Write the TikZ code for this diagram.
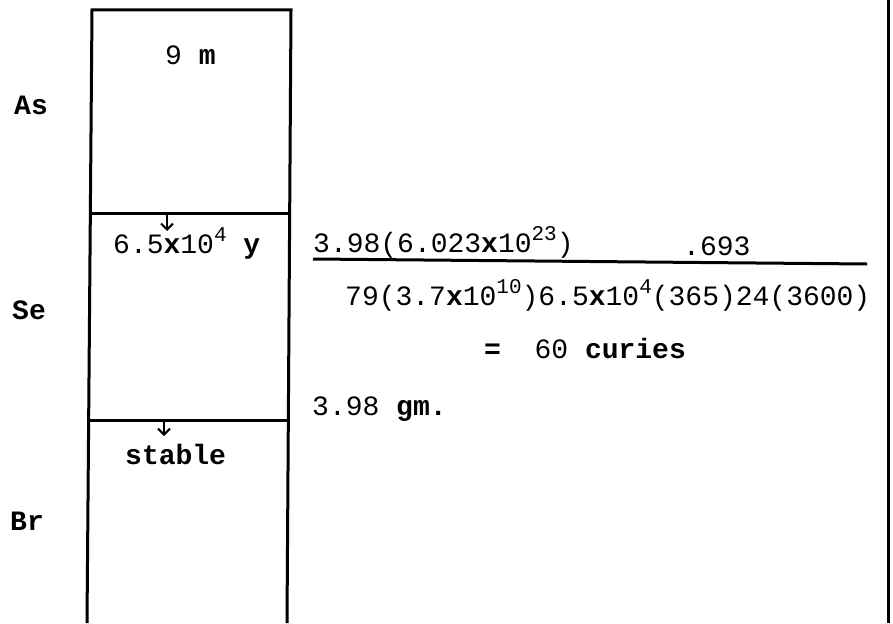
\documentclass[tikz,border=0pt]{standalone}
\usepackage{fontspec}
\setmonofont{Liberation Mono}
\usetikzlibrary{arrows.meta}
\newcommand\supx[1]{\raisebox{0.42em}{\fontsize{21}{21}\selectfont #1}}
\newcommand\wrdb[1]{\textbf{#1}}
\begin{document}
\begin{tikzpicture}[x=1pt,y=-1pt,
  lbl/.style={font=\fontsize{28}{30}\selectfont\ttfamily, inner sep=0pt, anchor=base west},
  rulel/.style={line width=3pt},
  arr/.style={line width=2pt, -{Straight Barb[length=6pt,width=12pt,line width=2pt]}}]
\useasboundingbox (0,0) rectangle (893,623);
% column box
\coordinate (tl) at (92,10);
\coordinate (tr) at (291,10);
\coordinate (bl) at (87,623);
\coordinate (br) at (287,623);
\coordinate (d1l) at (91,213);
\coordinate (d1r) at (290,213);
\coordinate (d2l) at (89,420);
\coordinate (d2r) at (289,420);
\draw[rulel] (bl) -- (tl) -- (tr) -- (br);
\draw[rulel] (d1l) -- (d1r);
\draw[rulel] (d2l) -- (d2r);
% right frame
\coordinate (rt) at (888,0);
\coordinate (rb) at (888,623);
\draw[rulel] (rt) -- (rb);
% labels
\node[lbl] (as) at (14,114) {\wrdb{As}};
\node[lbl] (se) at (12,319) {\wrdb{Se}};
\node[lbl] (brl) at (10,530) {\wrdb{Br}};
\node[lbl] (nine) at (165,65) {9 \wrdb{m}};
\node[lbl] (half) at (113,253) {6.5\wrdb{x}10\supx{4} \wrdb{y}};
\node[lbl] (stab) at (125,464) {\wrdb{stable}};
% arrows
\coordinate (a1s) at (167,214);
\coordinate (a1e) at (167,231);
\coordinate (a2s) at (164,420);
\coordinate (a2e) at (164,436);
\draw[arr] (a1s) -- (a1e);
\draw[arr] (a2s) -- (a2e);
% formula
\node[lbl] (num) at (313,252) {3.98(6.023\wrdb{x}10\supx{23})};
\node[lbl] (ln2) at (683,255) {.693};
\coordinate (fl) at (313,259);
\coordinate (fr) at (867,264);
\draw[rulel] (fl) -- (fr);
\node[lbl] (den) at (345,305) {79(3.7\wrdb{x}10\supx{10})6.5\wrdb{x}10\supx{4}(365)24(3600)};
\node[lbl] (res) at (484,358) {\wrdb{=}~~60 \wrdb{curies}};
\node[lbl] (gm) at (312,415) {3.98 \wrdb{gm.}};
\end{tikzpicture}
\end{document}
